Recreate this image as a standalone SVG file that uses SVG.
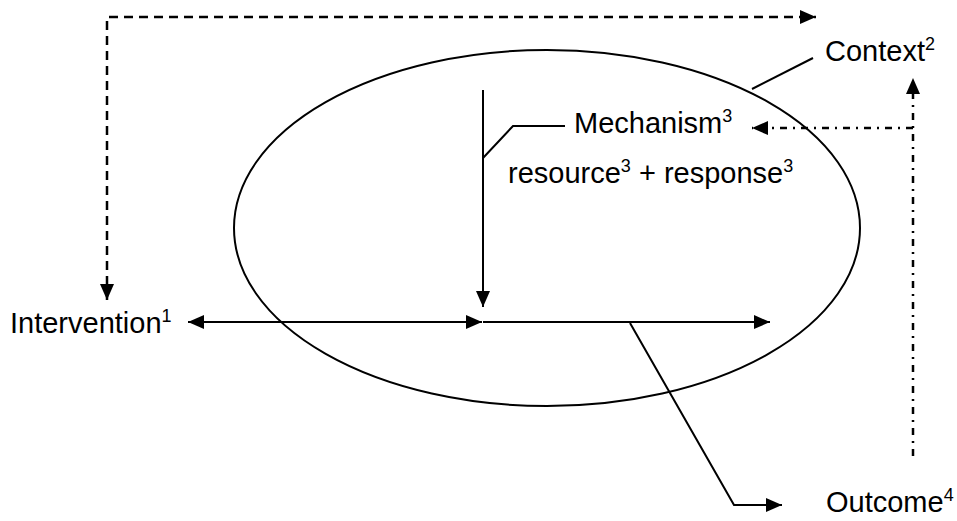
<svg xmlns="http://www.w3.org/2000/svg" width="957" height="521" viewBox="0 0 957 521">
  <style>
    .lbl { font-family: "Liberation Sans", Arial, sans-serif; font-size: 29px; fill: #000; }
    .sup { font-size: 18px; }
    .ln { fill: none; stroke: #000; stroke-width: 2; }
    .dash { stroke-dasharray: 9 6; stroke-width: 2.5; }
    .dashdot { stroke-dasharray: 7 6 2 6; stroke-width: 2.5; }
  </style>
  <defs>
    <marker id="arrow" markerUnits="userSpaceOnUse" markerWidth="17" markerHeight="14" refX="16" refY="7" orient="auto-start-reverse" viewBox="0 0 17 14">
      <path d="M0,0 L16,7 L0,14 z" fill="#000" stroke="none"/>
    </marker>
  </defs>
  <rect width="957" height="521" fill="#fff"/>

  <!-- context boundary -->
  <g id="context-ellipse">
    <ellipse cx="547" cy="228" rx="313" ry="178" class="ln"/>
  </g>

  <g id="intervention">
    <text class="lbl" x="10" y="333">Intervention<tspan class="sup" dy="-11">1</tspan></text>
  </g>
  <g id="context">
    <text class="lbl" x="825" y="61">Context<tspan class="sup" dy="-11">2</tspan></text>
  </g>
  <g id="mechanism">
    <text class="lbl" x="574" y="133">Mechanism<tspan class="sup" dy="-11">3</tspan></text>
  </g>
  <g id="resource-response">
    <text class="lbl" x="508" y="183">resource<tspan class="sup" dy="-11">3</tspan><tspan dy="11"> + response</tspan><tspan class="sup" dy="-11">3</tspan></text>
  </g>
  <g id="outcome">
    <text class="lbl" x="826" y="512">Outcome<tspan class="sup" dy="-11">4</tspan></text>
  </g>

  <g id="connectors">
    <!-- feedback loop over the top to the intervention -->
    <polyline class="ln dash" points="107,300 107,17 816,17" marker-start="url(#arrow)" marker-end="url(#arrow)"/>
    <!-- outcome feeds back to context and mechanism -->
    <polyline class="ln dashdot" points="913,456 913,78" marker-end="url(#arrow)"/>
    <polyline class="ln dashdot" points="913,128 752,128" marker-end="url(#arrow)"/>
    <!-- context leader -->
    <line class="ln" x1="752" y1="89" x2="813" y2="58"/>
    <!-- mechanism descending to the chain -->
    <line class="ln" x1="483" y1="90" x2="483" y2="307" marker-end="url(#arrow)"/>
    <polyline class="ln" points="483,158 513,126 565,126"/>
    <!-- intervention to outcome chain -->
    <line class="ln" x1="188" y1="322" x2="482" y2="322" marker-start="url(#arrow)" marker-end="url(#arrow)"/>
    <line class="ln" x1="483" y1="322" x2="770" y2="322" marker-end="url(#arrow)"/>
    <!-- outcome leader -->
    <polyline class="ln" points="630,323 734,505 782,505" marker-end="url(#arrow)"/>
  </g>
</svg>
